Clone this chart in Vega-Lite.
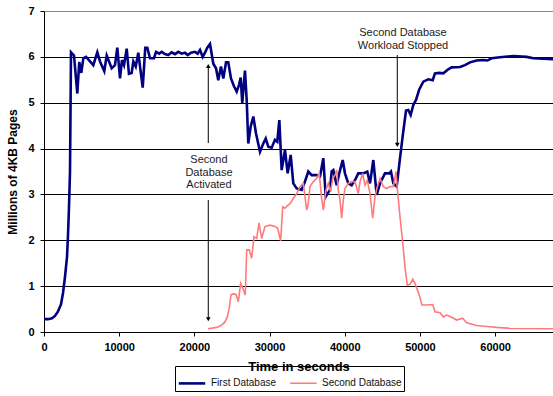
{
  "$schema": "https://vega.github.io/schema/vega-lite/v6.json",
  "autosize": {"type": "none"},
  "padding": {"left": 44, "top": 11, "right": 0, "bottom": 64},
  "width": 509,
  "height": 321,
  "background": "white",
  "config": {
    "font": "Liberation Sans",
    "view": {"stroke": null},
    "axis": {"labelFont": "Liberation Sans", "titleFont": "Liberation Sans", "labelFontWeight": "bold", "labelColor": "black", "titleColor": "black", "domainColor": "black", "tickColor": "black", "tickSize": 4, "labelFontSize": 11, "titleFontWeight": "bold"}
  },
  "datasets": {
    "lines": [
      {"s":"First Database","t":0,"v":0.28},{"s":"First Database","t":530,"v":0.28},{"s":"First Database","t":1060,"v":0.3},{"s":"First Database","t":1460,"v":0.35},{"s":"First Database","t":1860,"v":0.45},{"s":"First Database","t":2260,"v":0.6},{"s":"First Database","t":2530,"v":0.85},{"s":"First Database","t":2790,"v":1.2},{"s":"First Database","t":3060,"v":1.63},{"s":"First Database","t":3190,"v":2.1},{"s":"First Database","t":3320,"v":2.7},{"s":"First Database","t":3460,"v":3.5},{"s":"First Database","t":3590,"v":6.1},{"s":"First Database","t":3990,"v":6.03},{"s":"First Database","t":4430,"v":5.2},{"s":"First Database","t":4690,"v":5.89},{"s":"First Database","t":4960,"v":5.65},{"s":"First Database","t":5230,"v":5.97},{"s":"First Database","t":5590,"v":6.0},{"s":"First Database","t":6120,"v":5.9},{"s":"First Database","t":6560,"v":5.82},{"s":"First Database","t":7090,"v":6.1},{"s":"First Database","t":7450,"v":5.9},{"s":"First Database","t":8020,"v":5.69},{"s":"First Database","t":8340,"v":6.03},{"s":"First Database","t":9000,"v":5.75},{"s":"First Database","t":9440,"v":5.82},{"s":"First Database","t":9750,"v":6.2},{"s":"First Database","t":10110,"v":5.53},{"s":"First Database","t":10370,"v":5.93},{"s":"First Database","t":10640,"v":5.82},{"s":"First Database","t":11000,"v":6.18},{"s":"First Database","t":11300,"v":5.63},{"s":"First Database","t":11660,"v":5.65},{"s":"First Database","t":11880,"v":5.9},{"s":"First Database","t":12200,"v":5.79},{"s":"First Database","t":12540,"v":6.09},{"s":"First Database","t":13130,"v":5.33},{"s":"First Database","t":13470,"v":6.2},{"s":"First Database","t":13740,"v":6.2},{"s":"First Database","t":14100,"v":5.97},{"s":"First Database","t":14630,"v":5.97},{"s":"First Database","t":14900,"v":6.11},{"s":"First Database","t":15330,"v":6.07},{"s":"First Database","t":15650,"v":6.11},{"s":"First Database","t":16090,"v":6.06},{"s":"First Database","t":16530,"v":6.04},{"s":"First Database","t":16980,"v":6.1},{"s":"First Database","t":17420,"v":6.06},{"s":"First Database","t":17860,"v":6.11},{"s":"First Database","t":18310,"v":6.07},{"s":"First Database","t":18750,"v":6.09},{"s":"First Database","t":19110,"v":6.04},{"s":"First Database","t":19550,"v":6.09},{"s":"First Database","t":20080,"v":6.11},{"s":"First Database","t":20440,"v":6.07},{"s":"First Database","t":20750,"v":6.15},{"s":"First Database","t":21110,"v":6.0},{"s":"First Database","t":21410,"v":6.09},{"s":"First Database","t":21720,"v":6.2},{"s":"First Database","t":22080,"v":6.28},{"s":"First Database","t":22520,"v":5.85},{"s":"First Database","t":22880,"v":5.75},{"s":"First Database","t":23180,"v":5.49},{"s":"First Database","t":23540,"v":5.79},{"s":"First Database","t":23850,"v":5.53},{"s":"First Database","t":24210,"v":5.88},{"s":"First Database","t":24510,"v":5.88},{"s":"First Database","t":24870,"v":5.53},{"s":"First Database","t":25270,"v":5.36},{"s":"First Database","t":25630,"v":5.24},{"s":"First Database","t":25940,"v":5.39},{"s":"First Database","t":26160,"v":5.55},{"s":"First Database","t":26370,"v":4.99},{"s":"First Database","t":26730,"v":5.7},{"s":"First Database","t":26960,"v":5.06},{"s":"First Database","t":27170,"v":4.11},{"s":"First Database","t":27490,"v":4.48},{"s":"First Database","t":27840,"v":4.7},{"s":"First Database","t":28200,"v":4.33},{"s":"First Database","t":28730,"v":3.93},{"s":"First Database","t":29170,"v":4.11},{"s":"First Database","t":29490,"v":4.22},{"s":"First Database","t":29830,"v":4.04},{"s":"First Database","t":30280,"v":4.02},{"s":"First Database","t":30720,"v":4.19},{"s":"First Database","t":31030,"v":4.15},{"s":"First Database","t":31300,"v":4.62},{"s":"First Database","t":31610,"v":3.53},{"s":"First Database","t":32050,"v":3.97},{"s":"First Database","t":32410,"v":3.46},{"s":"First Database","t":32810,"v":3.86},{"s":"First Database","t":33160,"v":3.24},{"s":"First Database","t":33610,"v":3.13},{"s":"First Database","t":34270,"v":3.1},{"s":"First Database","t":34710,"v":3.28},{"s":"First Database","t":35150,"v":3.5},{"s":"First Database","t":35600,"v":3.42},{"s":"First Database","t":36270,"v":3.42},{"s":"First Database","t":36710,"v":3.39},{"s":"First Database","t":37150,"v":3.79},{"s":"First Database","t":37470,"v":2.95},{"s":"First Database","t":38040,"v":3.1},{"s":"First Database","t":38260,"v":3.5},{"s":"First Database","t":38480,"v":3.53},{"s":"First Database","t":38930,"v":3.2},{"s":"First Database","t":39270,"v":3.46},{"s":"First Database","t":39730,"v":3.75},{"s":"First Database","t":40030,"v":3.46},{"s":"First Database","t":40470,"v":3.24},{"s":"First Database","t":40920,"v":3.2},{"s":"First Database","t":41360,"v":3.31},{"s":"First Database","t":41800,"v":3.46},{"s":"First Database","t":42470,"v":3.46},{"s":"First Database","t":43000,"v":3.5},{"s":"First Database","t":43360,"v":3.24},{"s":"First Database","t":43800,"v":3.75},{"s":"First Database","t":44250,"v":2.99},{"s":"First Database","t":44690,"v":3.24},{"s":"First Database","t":45350,"v":3.46},{"s":"First Database","t":45930,"v":3.46},{"s":"First Database","t":46150,"v":3.5},{"s":"First Database","t":46460,"v":3.24},{"s":"First Database","t":46910,"v":3.17},{"s":"First Database","t":47350,"v":3.79},{"s":"First Database","t":47700,"v":4.26},{"s":"First Database","t":48150,"v":4.83},{"s":"First Database","t":48450,"v":4.84},{"s":"First Database","t":48770,"v":4.73},{"s":"First Database","t":49120,"v":4.95},{"s":"First Database","t":49480,"v":5.06},{"s":"First Database","t":49910,"v":5.29},{"s":"First Database","t":50450,"v":5.46},{"s":"First Database","t":51110,"v":5.51},{"s":"First Database","t":51700,"v":5.49},{"s":"First Database","t":52000,"v":5.64},{"s":"First Database","t":52570,"v":5.65},{"s":"First Database","t":53110,"v":5.64},{"s":"First Database","t":53770,"v":5.73},{"s":"First Database","t":54220,"v":5.77},{"s":"First Database","t":55330,"v":5.78},{"s":"First Database","t":55990,"v":5.82},{"s":"First Database","t":56660,"v":5.88},{"s":"First Database","t":57550,"v":5.92},{"s":"First Database","t":58430,"v":5.93},{"s":"First Database","t":58960,"v":5.92},{"s":"First Database","t":59540,"v":5.97},{"s":"First Database","t":60650,"v":5.99},{"s":"First Database","t":62420,"v":6.02},{"s":"First Database","t":64200,"v":6.0},{"s":"First Database","t":65080,"v":5.97},{"s":"First Database","t":67700,"v":5.95},
      {"s":"Second Database","t":21810,"v":0.07},{"s":"Second Database","t":22970,"v":0.1},{"s":"Second Database","t":23630,"v":0.15},{"s":"Second Database","t":24070,"v":0.22},{"s":"Second Database","t":24380,"v":0.33},{"s":"Second Database","t":24640,"v":0.52},{"s":"Second Database","t":24870,"v":0.81},{"s":"Second Database","t":25180,"v":0.83},{"s":"Second Database","t":25540,"v":0.82},{"s":"Second Database","t":25840,"v":0.66},{"s":"Second Database","t":26160,"v":1.06},{"s":"Second Database","t":26510,"v":0.92},{"s":"Second Database","t":26770,"v":0.81},{"s":"Second Database","t":26960,"v":1.79},{"s":"Second Database","t":27300,"v":1.79},{"s":"Second Database","t":27620,"v":1.61},{"s":"Second Database","t":27930,"v":2.08},{"s":"Second Database","t":28290,"v":2.04},{"s":"Second Database","t":28600,"v":2.38},{"s":"Second Database","t":28950,"v":2.04},{"s":"Second Database","t":29390,"v":2.3},{"s":"Second Database","t":30060,"v":2.33},{"s":"Second Database","t":30720,"v":2.3},{"s":"Second Database","t":31080,"v":2.26},{"s":"Second Database","t":31480,"v":1.99},{"s":"Second Database","t":31750,"v":2.73},{"s":"Second Database","t":32050,"v":2.7},{"s":"Second Database","t":32490,"v":2.77},{"s":"Second Database","t":32720,"v":2.8},{"s":"Second Database","t":33160,"v":2.91},{"s":"Second Database","t":33610,"v":3.02},{"s":"Second Database","t":34050,"v":3.17},{"s":"Second Database","t":34490,"v":3.24},{"s":"Second Database","t":34940,"v":2.66},{"s":"Second Database","t":35150,"v":2.8},{"s":"Second Database","t":35380,"v":3.17},{"s":"Second Database","t":35820,"v":3.28},{"s":"Second Database","t":36270,"v":3.35},{"s":"Second Database","t":36610,"v":3.46},{"s":"Second Database","t":36930,"v":2.91},{"s":"Second Database","t":37150,"v":2.66},{"s":"Second Database","t":37510,"v":3.1},{"s":"Second Database","t":37810,"v":3.24},{"s":"Second Database","t":38130,"v":3.06},{"s":"Second Database","t":38400,"v":3.35},{"s":"Second Database","t":38700,"v":3.42},{"s":"Second Database","t":38930,"v":3.53},{"s":"Second Database","t":39140,"v":3.1},{"s":"Second Database","t":39370,"v":2.88},{"s":"Second Database","t":39590,"v":2.48},{"s":"Second Database","t":39810,"v":2.88},{"s":"Second Database","t":40030,"v":3.13},{"s":"Second Database","t":40470,"v":3.24},{"s":"Second Database","t":40920,"v":3.28},{"s":"Second Database","t":41360,"v":3.28},{"s":"Second Database","t":41800,"v":3.02},{"s":"Second Database","t":42030,"v":3.28},{"s":"Second Database","t":42390,"v":3.46},{"s":"Second Database","t":42690,"v":3.2},{"s":"Second Database","t":43000,"v":3.31},{"s":"Second Database","t":43360,"v":3.02},{"s":"Second Database","t":43720,"v":2.48},{"s":"Second Database","t":44020,"v":2.95},{"s":"Second Database","t":44330,"v":3.17},{"s":"Second Database","t":44690,"v":3.35},{"s":"Second Database","t":45130,"v":3.17},{"s":"Second Database","t":45580,"v":3.13},{"s":"Second Database","t":46020,"v":3.17},{"s":"Second Database","t":46460,"v":3.17},{"s":"Second Database","t":46820,"v":3.5},{"s":"Second Database","t":46990,"v":3.13},{"s":"Second Database","t":47350,"v":2.51},{"s":"Second Database","t":47680,"v":2.0},{"s":"Second Database","t":48010,"v":1.42},{"s":"Second Database","t":48320,"v":1.02},{"s":"Second Database","t":48680,"v":1.04},{"s":"Second Database","t":49040,"v":1.15},{"s":"Second Database","t":49340,"v":1.06},{"s":"Second Database","t":49910,"v":0.81},{"s":"Second Database","t":50270,"v":0.59},{"s":"Second Database","t":50900,"v":0.59},{"s":"Second Database","t":51700,"v":0.6},{"s":"Second Database","t":52000,"v":0.44},{"s":"Second Database","t":52670,"v":0.42},{"s":"Second Database","t":53110,"v":0.33},{"s":"Second Database","t":53560,"v":0.37},{"s":"Second Database","t":54220,"v":0.32},{"s":"Second Database","t":54890,"v":0.26},{"s":"Second Database","t":55680,"v":0.3},{"s":"Second Database","t":56220,"v":0.2},{"s":"Second Database","t":57550,"v":0.14},{"s":"Second Database","t":58880,"v":0.12},{"s":"Second Database","t":60210,"v":0.1},{"s":"Second Database","t":61980,"v":0.08},{"s":"Second Database","t":67700,"v":0.07}
    ],
    "arrows": [
      {"t":21850,"a":4.12,"b":5.8},
      {"t":21850,"a":2.88,"b":0.28},
      {"t":46990,"a":6.04,"b":4.08}
    ],
    "heads": [
      {"t":21850,"v":5.8,"d":"up"},
      {"t":21850,"v":0.28,"d":"down"},
      {"t":46990,"v":4.08,"d":"down"}
    ],
    "notes": [
      {"t":21940,"v":3.88,"txt":"Second\nDatabase\nActivated"},
      {"t":47750,"v":6.65,"txt":"Second Database\nWorkload Stopped"}
    ]
  },
  "layer": [
    {
      "data": {"name": "lines"},
      "mark": {"type": "line", "clip": true},
      "encoding": {
        "x": {"field": "t", "type": "quantitative", "scale": {"domain": [0, 67700], "nice": false}, "axis": {"values": [0,10000,20000,30000,40000,50000,60000], "grid": false, "title": "Time in seconds", "titleFontSize": 13, "titlePadding": 8, "labelPadding": 5, "format": "d", "labelFlush": false}},
        "y": {"field": "v", "type": "quantitative", "scale": {"domain": [0, 7], "nice": false}, "axis": {"values": [0,1,2,3,4,5,6,7], "grid": true, "gridColor": {"condition": {"test": "datum.value == 7", "value": "#888888"}, "value": "#000000"}, "gridWidth": 1, "title": "Millions of 4KB Pages", "titleFontSize": 12, "titlePadding": 8, "labelPadding": 6}},
        "color": {"field": "s", "type": "nominal", "scale": {"domain": ["First Database", "Second Database"], "range": ["#000080", "#ff7a7a"]}, "legend": {"title": null, "orient": "none", "legendX": 131, "legendY": 355, "direction": "horizontal", "strokeColor": "black", "padding": 2, "symbolType": "stroke", "symbolSize": 700, "symbolStrokeWidth": 2.5, "labelFontSize": 10, "labelColor": "#111", "columnPadding": 10, "cornerRadius": 0}},
        "strokeWidth": {"field": "s", "type": "nominal", "scale": {"domain": ["First Database", "Second Database"], "range": [2.6, 1.6]}, "legend": null}
      }
    },
    {
      "data": {"name": "arrows"},
      "mark": {"type": "rule", "color": "black", "strokeWidth": 1},
      "encoding": {"x": {"field": "t", "type": "quantitative"}, "y": {"field": "a", "type": "quantitative"}, "y2": {"field": "b"}}
    },
    {
      "data": {"name": "heads"},
      "mark": {"type": "point", "filled": true, "color": "black", "size": 22, "opacity": 1},
      "encoding": {"x": {"field": "t", "type": "quantitative"}, "y": {"field": "v", "type": "quantitative"}, "shape": {"field": "d", "type": "nominal", "scale": {"domain": ["up", "down"], "range": ["triangle-up", "triangle-down"]}, "legend": null}}
    },
    {
      "data": {"name": "notes"},
      "mark": {"type": "text", "lineBreak": "\n", "align": "center", "baseline": "top", "fontSize": 11, "lineHeight": 12.5, "color": "#222222", "font": "Liberation Sans"},
      "encoding": {"x": {"field": "t", "type": "quantitative"}, "y": {"field": "v", "type": "quantitative"}, "text": {"field": "txt"}}
    }
  ]
}
